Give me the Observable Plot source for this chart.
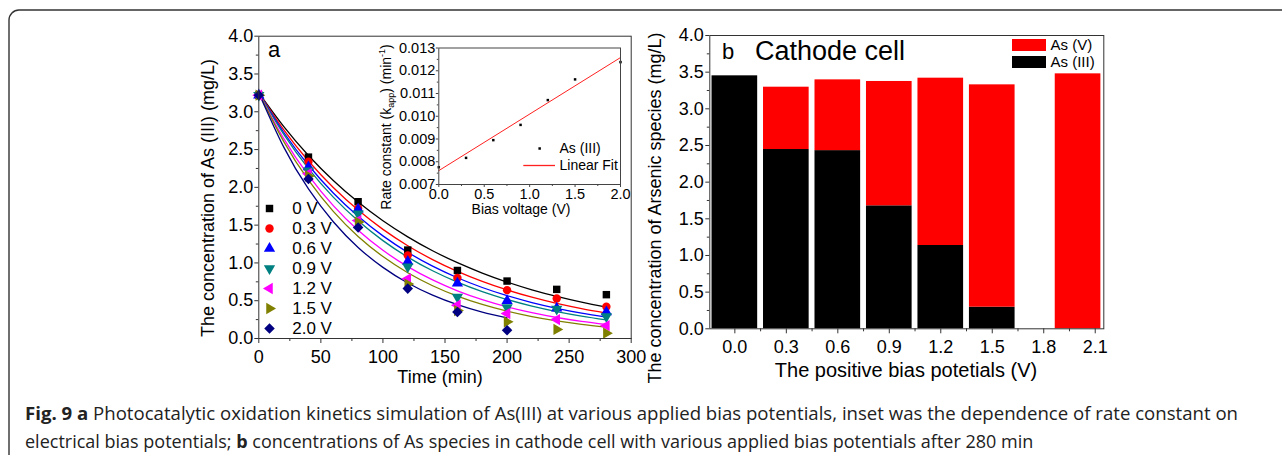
<!DOCTYPE html>
<html><head><meta charset="utf-8">
<script src="https://cdn.jsdelivr.net/npm/d3@7"></script>
<script src="https://cdn.jsdelivr.net/npm/@observablehq/plot@0.6"></script>
<style>
html,body{margin:0;padding:0;background:#fff;}
#root{position:relative;width:1282px;height:455px;overflow:hidden;font-family:"Liberation Sans",Arial,sans-serif;}
</style></head><body><div id="root"></div>
<script>
// ---------- Panel a: kinetics data ----------
const times = [0, 40, 80, 120, 160, 200, 240, 280];
const seriesLabels = ["0 V", "0.3 V", "0.6 V", "0.9 V", "1.2 V", "1.5 V", "2.0 V"];
const obs0V  = [3.22, 2.40, 1.81, 1.17, 0.90, 0.76, 0.65, 0.58];
const obs03V = [3.22, 2.34, 1.72, 1.10, 0.80, 0.64, 0.53, 0.42];
const obs06V = [3.22, 2.27, 1.71, 1.02, 0.73, 0.50, 0.40, 0.35];
const obs09V = [3.22, 2.22, 1.65, 0.95, 0.55, 0.41, 0.39, 0.29];
const obs12V = [3.22, 2.18, 1.56, 0.79, 0.44, 0.33, 0.25, 0.17];
const obs15V = [3.22, 2.15, 1.54, 0.72, 0.37, 0.22, 0.12, 0.07];
const obs20V = [3.22, 2.11, 1.47, 0.66, 0.35, 0.11, null, null];

// fitted curves
const fitTimes = [0, 20, 40, 60, 80, 100, 120, 140, 160, 180, 200, 220, 240, 260, 280];
const fit0V  = [3.25, 2.806, 2.422, 2.091, 1.805, 1.558, 1.345, 1.161, 1.003, 0.866, 0.747, 0.645, 0.557, 0.481, 0.415];
const fit03V = [3.25, 2.763, 2.349, 1.998, 1.699, 1.444, 1.228, 1.044, 0.888, 0.755, 0.642, 0.546, 0.464, 0.395, 0.336];
const fit06V = [3.25, 2.729, 2.292, 1.925, 1.617, 1.358, 1.140, 0.957, 0.804, 0.675, 0.567, 0.476, 0.400, 0.336, 0.282];
const fit09V = [3.25, 2.704, 2.249, 1.871, 1.557, 1.295, 1.077, 0.896, 0.746, 0.620, 0.516, 0.429, 0.357, 0.297, 0.247];
const fit12V = [3.25, 2.648, 2.158, 1.758, 1.432, 1.167, 0.951, 0.775, 0.631, 0.514, 0.419, 0.342, 0.278, 0.227, 0.185];
const fit15V = [3.25, 2.609, 2.095, 1.682, 1.350, 1.084, 0.870, 0.698, 0.561, 0.450, 0.361, 0.290, 0.233, 0.187, 0.150];
const fit20V = [3.25, 2.536, 1.979, 1.545, 1.205, 0.941, 0.734, 0.573, 0.447, 0.349, 0.272];

const xTicksA = [0, 50, 100, 150, 200, 250, 300];
const xMinorA = [25, 75, 125, 175, 225, 275];
const yTicksA = [0, 0.5, 1, 1.5, 2, 2.5, 3, 3.5, 4];
const yMinorA = [0.25, 0.75, 1.25, 1.75, 2.25, 2.75, 3.25, 3.75];

// ---------- Inset: rate constant ----------
const insetBias = [0, 0.3, 0.6, 0.9, 1.2, 1.5, 2.0];
const insetK = [0.00776, 0.00817, 0.00895, 0.00962, 0.01071, 0.01162, 0.01238];
const insetFitX = [0, 2.0];
const insetFitY = [0.00761, 0.01258];
const xTicksInset = [0, 0.5, 1.0, 1.5, 2.0];
const xMinorInset = [0.25, 0.75, 1.25, 1.75];
const yTicksInset = [0.007, 0.008, 0.009, 0.010, 0.011, 0.012, 0.013];
const yMinorInset = [0.0075, 0.0085, 0.0095, 0.0105, 0.0115, 0.0125];
const insetLegend = ["As (III)", "Linear Fit"];

// ---------- Panel b: arsenic species ----------
const barBias = [0, 0.3, 0.6, 0.9, 1.2, 1.5, 2.0];
const asIII = [3.45, 2.445, 2.43, 1.677, 1.136, 0.295, 0];
const asV   = [0, 0.85, 0.965, 1.696, 2.282, 3.032, 3.477];
const speciesLabels = ["As (V)", "As (III)"];
const xTicksB = [0, 0.3, 0.6, 0.9, 1.2, 1.5, 1.8, 2.1];
const xMinorB = [0.15, 0.45, 0.75, 1.05, 1.35, 1.65, 1.95];
const yTicksB = [0, 0.5, 1, 1.5, 2, 2.5, 3, 3.5, 4];
const yMinorB = [0.25, 0.75, 1.25, 1.75, 2.25, 2.75, 3.25, 3.75];

// ---------- styles ----------
const seriesColors = ["#000000", "#ff0000", "#0000ff", "#008080", "#ff00ff", "#808000", "#000080"];
const speciesColors = ["#ff0000", "#000000"];
const FONT = "'Liberation Sans', Arial, sans-serif";

const SQRT3 = Math.sqrt(3);
function triangleSymbol(tf) {
  return { draw(ctx, size) {
    const y = -Math.sqrt(size / (SQRT3 * 3));
    const p = [[0, y * 2], [-SQRT3 * y, -y], [SQRT3 * y, -y]].map(([a, b]) => tf(a, b));
    ctx.moveTo(p[0][0], p[0][1]); ctx.lineTo(p[1][0], p[1][1]); ctx.lineTo(p[2][0], p[2][1]); ctx.closePath();
  }};
}
const diamondSymbol = { draw(ctx, size) {
  const r = Math.sqrt(size / 2);
  ctx.moveTo(0, -r); ctx.lineTo(r, 0); ctx.lineTo(0, r); ctx.lineTo(-r, 0); ctx.closePath();
}};
const seriesSymbols = [
  d3.symbolSquare, d3.symbolCircle,
  triangleSymbol((a, b) => [a, b]),
  triangleSymbol((a, b) => [a, -b]),
  triangleSymbol((a, b) => [b, a]),
  triangleSymbol((a, b) => [-b, a]),
  diamondSymbol
];

const root = document.getElementById("root");
function place(el, left, top) {
  el.style.position = "absolute";
  el.style.left = left + "px";
  el.style.top = top + "px";
  root.appendChild(el);
}

// border
const NS = "http://www.w3.org/2000/svg";
const border = document.createElementNS(NS, "svg");
border.setAttribute("width", 1282); border.setAttribute("height", 455);
border.innerHTML = '<rect x="9" y="10" width="1400" height="700" rx="10" fill="none" stroke="#333" stroke-width="1.4"/>';
place(border, 0, 0);

// ---------- Panel a ----------
const obsList = [obs0V, obs03V, obs06V, obs09V, obs12V, obs15V, obs20V];
const fitList = [fit0V, fit03V, fit06V, fit09V, fit12V, fit15V, fit20V];
const obsRows = seriesLabels.map((s, i) => times.map((t, j) => ({s, t, v: obsList[i][j]})).filter(d => d.v != null));
const fitRows = seriesLabels.map((s, i) => fitList[i].map((v, j) => ({s, t: fitTimes[j], v})));

const baseStyle = (fs) => ({fontFamily: FONT, fontSize: fs + "px", color: "#000", background: "transparent", overflow: "visible"});

const plotA = Plot.plot({
  width: 450, height: 370,
  marginLeft: 68.3, marginRight: 9.3, marginTop: 15.7, marginBottom: 52,
  x: {domain: [0, 300]},
  y: {domain: [0, 4]},
  style: baseStyle(18),
  marks: [
    ...fitRows.map((rows, i) => Plot.line(rows, {x: "t", y: "v", stroke: seriesColors[i], strokeWidth: 1.3, curve: "natural"})),
    ...obsRows.map((rows, i) => Plot.dot(rows, {x: "t", y: "v", symbol: seriesSymbols[i], fill: seriesColors[i], r: 4.2})),
    Plot.frame({stroke: "#333", strokeWidth: 1}),
    Plot.axisX(xTicksA, {tickSize: 5, tickPadding: 7, label: null, stroke: "#333"}),
    Plot.axisX(xMinorA, {tickSize: 3, tickFormat: () => "", label: null, stroke: "#333"}),
    Plot.axisY(yTicksA, {tickSize: 4, tickPadding: 1.5, tickFormat: ".1f", label: null, stroke: "#333"}),
    Plot.axisY(yMinorA, {tickSize: 2.5, tickFormat: () => "", label: null, stroke: "#333"})
  ]
});
place(plotA, 190, 20);

// legend a
const legendA = Plot.plot({
  width: 120, height: 140, marginTop: 10, marginBottom: 10, marginLeft: 9, marginRight: 10,
  y: {type: "point", domain: seriesLabels, padding: 0, axis: null},
  style: baseStyle(17),
  marks: [
    ...seriesLabels.map((s, i) => Plot.dot([s], {y: d => d, frameAnchor: "left", symbol: seriesSymbols[i], fill: seriesColors[i], r: 4.2})),
    Plot.text(seriesLabels, {y: d => d, text: d => d, frameAnchor: "left", dx: 22.7, textAnchor: "start", fontSize: 17})
  ]
});
place(legendA, 260, 197.7);

// ---------- Inset ----------
const insetRows = insetBias.map((b, i) => ({b, k: insetK[i]}));
const insetFitRows = insetFitX.map((b, i) => ({b, k: insetFitY[i]}));
const plotInset = Plot.plot({
  width: 260, height: 177,
  marginLeft: 68.3, marginRight: 10, marginTop: 9.5, marginBottom: 31,
  x: {domain: [0, 2]},
  y: {domain: [0.007, 0.013]},
  style: baseStyle(14.5),
  marks: [
    Plot.line(insetFitRows, {x: "b", y: "k", stroke: "#ff2020", strokeWidth: 1}),
    Plot.dot(insetRows, {x: "b", y: "k", symbol: "square", fill: "#000", r: 1.4}),
    Plot.frame({stroke: "#444", strokeWidth: 1}),
    Plot.axisX(xTicksInset, {tickSize: 3, tickPadding: 1.5, tickFormat: ".1f", label: null, stroke: "#444"}),
    Plot.axisX(xMinorInset, {tickSize: 2, tickFormat: () => "", label: null, stroke: "#444"}),
    Plot.axisY(yTicksInset, {tickSize: 2.5, tickPadding: 1, tickFormat: ".3f", label: null, stroke: "#444"}),
    Plot.axisY(yMinorInset, {tickSize: 1.5, tickFormat: () => "", label: null, stroke: "#444"})
  ]
});
place(plotInset, 370, 38);

const legendInset = Plot.plot({
  width: 112, height: 33, marginLeft: 10.3, marginRight: 70, marginTop: 7.7, marginBottom: 8,
  y: {type: "point", domain: insetLegend, padding: 0, axis: null},
  style: baseStyle(14),
  marks: [
    Plot.dot([insetLegend[0]], {y: d => d, symbol: "square", fill: "#000", r: 1.4}),
    Plot.ruleY([insetLegend[1]], {y: d => d, stroke: "#ff2020", strokeWidth: 1.3}),
    Plot.text(insetLegend, {y: d => d, text: d => d, frameAnchor: "right", dx: 4, textAnchor: "start", fontSize: 14})
  ]
});
place(legendInset, 513, 140);

// ---------- Panel b ----------
const barRows = barBias.map((b, i) => ({b, iii: asIII[i], v: asV[i]}));
const barHalf = 0.133;
const plotB = Plot.plot({
  width: 470, height: 370,
  marginLeft: 69.3, marginRight: 6.7, marginTop: 15, marginBottom: 61.7,
  x: {type: "linear", domain: [-0.146, 2.15]},
  y: {domain: [0, 4]},
  style: baseStyle(18),
  marks: [
    Plot.rect(barRows.filter(d => d.iii > 0), {x1: d => d.b - barHalf, x2: d => d.b + barHalf, y1: 0, y2: d => d.iii, fill: speciesColors[1]}),
    Plot.rect(barRows.filter(d => d.v > 0), {x1: d => d.b - barHalf, x2: d => d.b + barHalf, y1: d => d.iii, y2: d => d.iii + d.v, fill: speciesColors[0]}),
    Plot.frame({stroke: "#333", strokeWidth: 1}),
    Plot.axisX(xTicksB, {tickSize: 5, tickPadding: 6, tickFormat: ".1f", label: null, stroke: "#333"}),
    Plot.axisX(xMinorB, {tickSize: 3, tickFormat: () => "", label: null, stroke: "#333"}),
    Plot.axisY(yTicksB, {tickSize: 4, tickPadding: 2, tickFormat: ".1f", label: null, stroke: "#333"}),
    Plot.axisY(yMinorB, {tickSize: 2.5, tickFormat: () => "", label: null, stroke: "#333"})
  ]
});
place(plotB, 640, 20);

const legendB = Plot.plot({
  width: 110, height: 31, marginLeft: 10, marginRight: 66, marginTop: 0, marginBottom: 0,
  y: {type: "band", domain: speciesLabels, paddingInner: 0.27, paddingOuter: 0, axis: null},
  color: {domain: speciesLabels, range: speciesColors},
  style: baseStyle(15),
  marks: [
    Plot.cell(speciesLabels, {y: d => d, fill: d => d, inset: 0}),
    Plot.text(speciesLabels, {y: d => d, text: d => d, frameAnchor: "right", dx: 4, textAnchor: "start", fontSize: 15})
  ]
});
place(legendB, 1002, 38.3);

// ---------- Text overlay: titles, axis labels, caption ----------
const overlay = document.createElementNS(NS, "svg");
overlay.setAttribute("width", 1282); overlay.setAttribute("height", 455);
overlay.style.pointerEvents = "none";
overlay.innerHTML = `
<g font-family="${FONT}" fill="#000">
  <text x="268" y="57" font-size="22">a</text>
  <text x="722" y="59" font-size="22">b</text>
  <text x="755" y="60" font-size="27">Cathode cell</text>
  <text transform="translate(208,198) rotate(-90)" text-anchor="middle" dominant-baseline="central" font-size="18">The concentration of As (III) (mg/L)</text>
  <text x="440" y="377" text-anchor="middle" dominant-baseline="central" font-size="18">Time (min)</text>
  <text transform="translate(655,208) rotate(-90)" text-anchor="middle" dominant-baseline="central" font-size="18">The concentration of Arsenic species (mg/L)</text>
  <text x="906" y="370" text-anchor="middle" dominant-baseline="central" font-size="20">The positive bias potetials (V)</text>
  <text transform="translate(386,127) rotate(-90)" text-anchor="middle" font-size="14" y="5">Rate constant (k<tspan font-size="9" dy="3">app</tspan><tspan dy="-3">) (min</tspan><tspan font-size="9" dy="-6">-1</tspan><tspan dy="6">)</tspan></text>
  <text x="521" y="209" text-anchor="middle" dominant-baseline="central" font-size="14">Bias voltage (V)</text>
</g>
<g font-family="'Open Sans', 'Noto Sans', sans-serif" fill="#222" font-size="18">
  <text x="25" y="419.5" textLength="1213" lengthAdjust="spacingAndGlyphs"><tspan font-weight="bold">Fig. 9 a</tspan> Photocatalytic oxidation kinetics simulation of As(III) at various applied bias potentials, inset was the dependence of rate constant on</text>
  <text x="25" y="447.5"><tspan>electrical bias potentials; </tspan><tspan font-weight="bold">b</tspan><tspan> concentrations of As species in cathode cell with various applied bias potentials after 280 min</tspan></text>
</g>`;
place(overlay, 0, 0);
</script>
</body></html>
